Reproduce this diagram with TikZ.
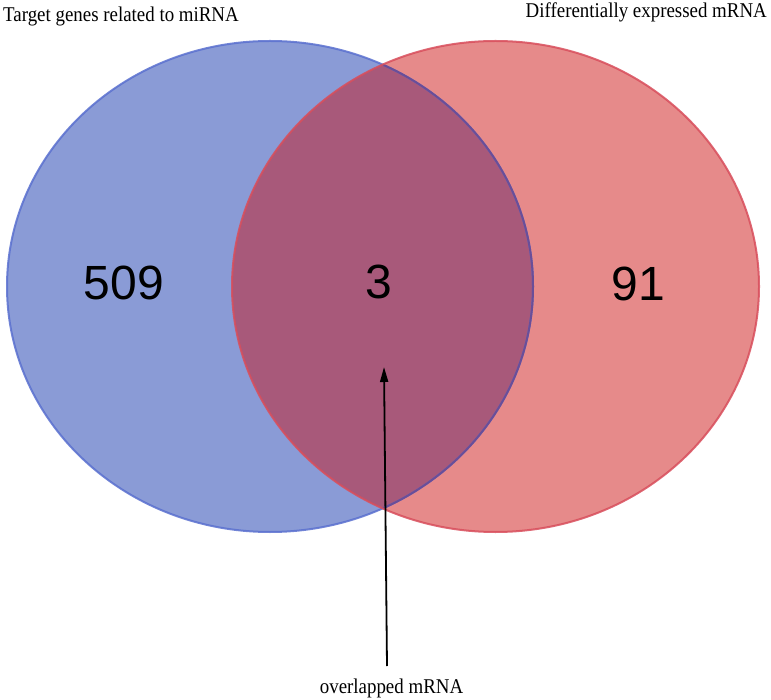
\documentclass[tikz,border=0pt]{standalone}
\usepackage{fontspec}
\usepackage{graphicx}
\setmainfont{Liberation Serif}
\newfontfamily\numfont{Liberation Sans}
\usetikzlibrary{arrows.meta}
\definecolor{bluefill}{HTML}{8A9BD6}
\definecolor{redfill}{HTML}{E68A8A}
\definecolor{overfill}{HTML}{A8597A}
\definecolor{bluestroke}{HTML}{5A70CF}
\definecolor{bluestrokedark}{HTML}{6A4E98}
\definecolor{redstroke}{HTML}{D84E5C}
\newcommand{\condensed}[1]{\scalebox{0.9}[1]{#1}}
\tikzset{
  setlabel/.style={font=\fontsize{21}{24}\selectfont, inner sep=0pt},
  countlabel/.style={font=\numfont\fontsize{48}{50}\selectfont, inner sep=0pt},
  pointer/.style={line width=1.8pt, -{Triangle[length=15pt,width=8pt]}}
}
\begin{document}
\begin{tikzpicture}[x=1pt,y=-1pt]
\useasboundingbox (0,0) rectangle (771,700);
\coordinate (cb) at (270,286.5);
\coordinate (cr) at (495.5,286.5);
% fills
\fill[bluefill] (cb) ellipse [x radius=263, y radius=245.5];
\fill[redfill] (cr) ellipse [x radius=263.5, y radius=245.5];
\begin{scope}
  \clip (cb) ellipse [x radius=263, y radius=245.5];
  \fill[overfill] (cr) ellipse [x radius=263.5, y radius=245.5];
\end{scope}
% outlines
\draw[bluestroke, line width=2pt, opacity=0.85] (cb) ellipse [x radius=263, y radius=245.5];
\begin{scope}
  \clip (cr) ellipse [x radius=263.5, y radius=245.5];
  \draw[bluestrokedark, line width=2pt] (cb) ellipse [x radius=263, y radius=245.5];
\end{scope}
\draw[redstroke, line width=2pt, opacity=0.85] (cr) ellipse [x radius=263.5, y radius=245.5];
% titles
\node[setlabel, anchor=base west] (tA) at (3,22) {\condensed{Target genes related to miRNA}};
\node[setlabel, anchor=base east] (tB) at (767,18) {\condensed{Differentially expressed mRNA}};
% counts
\node[countlabel] (nA) at (124,283) {509};
\node[countlabel] (nAB) at (379,282) {3};
\node[countlabel] (nB) at (638,284) {91};
% overlap label and arrow
\node[setlabel, anchor=base] (tO) at (391.5,693) {\condensed{overlapped mRNA}};
\coordinate (tail) at (387,666);
\coordinate (tip) at (384,367);
\draw[pointer] (tail) -- (tip);
\end{tikzpicture}
\end{document}
